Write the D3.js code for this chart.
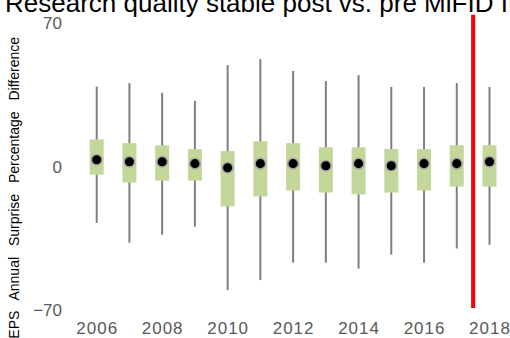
<!DOCTYPE html>
<html>
<head>
<meta charset="utf-8">
<script src="https://cdn.jsdelivr.net/npm/d3@7"></script>
<style>
  html, body { margin: 0; padding: 0; background: #fff; }
  svg { display: block; }
  svg text { font-family: "Liberation Sans", Arial, Helvetica, sans-serif; }
</style>
</head>
<body>
<svg id="chart" width="510" height="338"></svg>
<script>
// Yearly distribution of EPS annual surprise percentage difference
const years      = [2006, 2007, 2008, 2009, 2010, 2011, 2012, 2013, 2014, 2015, 2016, 2017, 2018];
const whiskerMax = [39.0, 40.7, 35.9, 32.0, 49.5, 52.4, 46.6, 41.7, 44.6, 38.8, 38.8, 40.7, 38.8];
const boxTop     = [13.2, 11.4, 10.3,  8.5,  7.5, 12.3, 11.4,  9.4,  9.4,  8.5,  8.5, 10.4, 10.4];
const meanValue  = [ 3.3,  2.3,  2.3,  1.4, -0.6,  1.4,  1.4,  0.4,  1.4,  0.4,  1.4,  1.4,  2.3];
const boxBottom  = [-4.0, -7.8, -6.9, -6.9,-19.5,-14.6,-11.7,-12.7,-13.6,-12.7,-11.7, -9.8, -9.8];
const whiskerMin = [-27.5,-37.2,-33.3,-29.4,-60.3,-55.4,-46.9,-46.9,-49.8,-43.0,-46.9,-40.0,-38.2];

const yTicks = [70, 0, -70];
const xTicks = [2006, 2008, 2010, 2012, 2014, 2016, 2018];

// MiFID II cut-off marker
const regimeYear = [2017.5];
const regimeSpan = [74, -69];

const titleText = "Research quality stable post vs. pre MiFID II";
const yTitleText = "EPS Annual Surprise Percentage Difference";

const rows = years.map((yr, i) => ({
  year: yr, hi: whiskerMax[i], q3: boxTop[i], mean: meanValue[i], q1: boxBottom[i], lo: whiskerMin[i]
}));

const svg = d3.select("#chart");

const x = d3.scaleLinear().domain([2006, 2018]).range([96.7, 489.5]);
const y = d3.scaleLinear().domain([-70, 70]).range([310, 23]);

// title
svg.append("text")
  .attr("x", 5).attr("y", 12)
  .attr("font-size", 26)
  .attr("fill", "#000")
  .text(titleText);

// y axis title
svg.append("text")
  .attr("transform", `translate(19,37) rotate(-90)`)
  .attr("text-anchor", "end")
  .attr("font-size", 14)
  .attr("word-spacing", 7)
  .attr("fill", "#000")
  .text(yTitleText);

// y axis tick labels
const yAxis = d3.axisLeft(y).tickValues(yTicks).tickSize(0).tickPadding(0);
const gy = svg.append("g").attr("transform", "translate(62,0)").call(yAxis);
gy.attr("font-family", null);
gy.select(".domain").remove();
gy.selectAll("text")
  .attr("font-size", 17)
  .attr("fill", "#595959")
  .attr("dy", "0.35em");

// x axis tick labels
const xAxis = d3.axisBottom(x).tickValues(xTicks).tickFormat(d3.format("d")).tickSize(0).tickPadding(0);
const gx = svg.append("g").attr("transform", "translate(0,322)").call(xAxis);
gx.attr("font-family", null);
gx.select(".domain").remove();
gx.selectAll("text")
  .attr("font-size", 17)
  .attr("letter-spacing", 1)
  .attr("fill", "#595959")
  .attr("dy", "0.72em");

// whiskers
const marks = svg.append("g");
marks.selectAll("line.whisker").data(rows).join("line")
  .attr("class", "whisker")
  .attr("x1", d => x(d.year)).attr("x2", d => x(d.year))
  .attr("y1", d => y(d.hi)).attr("y2", d => y(d.lo))
  .attr("stroke", "#808080").attr("stroke-width", 2);

// boxes
const boxW = 14;
marks.selectAll("rect.box").data(rows).join("rect")
  .attr("class", "box")
  .attr("x", d => x(d.year) - boxW / 2)
  .attr("width", boxW)
  .attr("y", d => y(d.q3))
  .attr("height", d => y(d.q1) - y(d.q3))
  .attr("fill", "#c4d79b");

// means
marks.selectAll("circle.mean").data(rows).join("circle")
  .attr("class", "mean")
  .attr("cx", d => x(d.year)).attr("cy", d => y(d.mean))
  .attr("r", 5.3)
  .attr("fill", "#000")
  .attr("stroke", "#a6a6a6").attr("stroke-width", 1.5);

// regime marker
svg.selectAll("line.regime").data(regimeYear).join("line")
  .attr("class", "regime")
  .attr("x1", d => x(d)).attr("x2", d => x(d))
  .attr("y1", y(regimeSpan[0])).attr("y2", y(regimeSpan[1]))
  .attr("stroke", "#ff0000").attr("stroke-width", 4);
</script>
</body>
</html>
